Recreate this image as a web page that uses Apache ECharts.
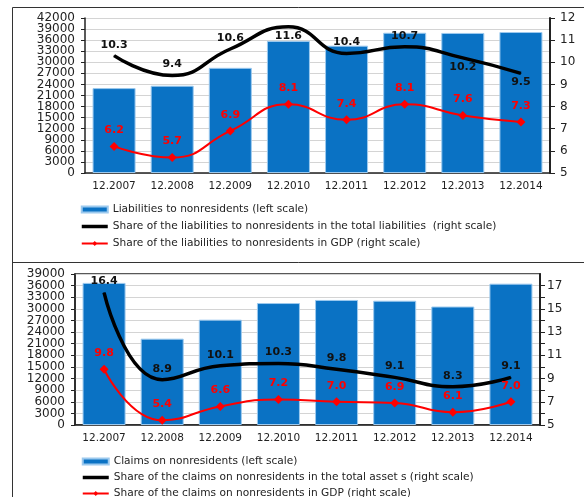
<!DOCTYPE html>
<html>
<head>
<meta charset="utf-8">
<script src="https://cdn.jsdelivr.net/npm/echarts@6/dist/echarts.min.js"></script>
<style>
  html, body { margin: 0; padding: 0; background: #fff; }
  #chart { width: 584px; height: 497px; }
</style>
</head>
<body>
<div id="chart"></div>
<script>
  // data
  const periods = ['12.2007', '12.2008', '12.2009', '12.2010', '12.2011', '12.2012', '12.2013', '12.2014'];

  const liabilities = [23000, 23650, 28500, 35800, 34500, 38000, 37950, 38200];
  const liabShareTotal = [10.3, 9.4, 10.6, 11.6, 10.4, 10.7, 10.2, 9.5];
  const liabShareGdp = [6.2, 5.7, 6.9, 8.1, 7.4, 8.1, 7.6, 7.3];

  const claims = [36700, 22300, 27200, 31500, 32300, 32100, 30600, 36500];
  const claimsShareTotal = [16.4, 8.9, 10.1, 10.3, 9.8, 9.1, 8.3, 9.1];
  const claimsShareGdp = [9.8, 5.4, 6.6, 7.2, 7.0, 6.9, 6.1, 7.0];

  // left tick labels, bottom to top
  const leftTicks1 = ['0', '3000', '6000', '9000', '12000', '15000', '18000', '21000',
    '24000', '27000', '30000', '33000', '36000', '39000', '42000'];
  const leftTicks2 = ['0', '3000', '6000', '9000', '12000', '15000', '18000', '21000',
    '24000', '27000', '30000', '33000', '36000', '39000'];

  // axis scales [min, max, step]
  const leftScale1 = [0, 42000, 3000];
  const rightScale1 = [5, 12, 1];
  const leftScale2 = [0, 39000, 3000];
  const rightScale2 = [5, 18, 1];

  // labels of the black line in the top panel that sit under the line
  const liabShareBelow = [3, 6, 7];

  const FONT = 'DejaVu Sans';
  const BLUE = '#0a72c4';
  const fmt1 = p => p.value.toFixed(1);

  function leftAxis(gridIndex, sc) {
    return {
      type: 'value', gridIndex, min: sc[0], max: sc[1], interval: sc[2],
      axisLine: { show: true, lineStyle: { color: '#222', width: 1.5 } },
      axisTick: { show: true, length: 4, lineStyle: { color: '#222' } },
      axisLabel: { show: false },
      splitLine: { lineStyle: { color: '#d4d4d4' } }
    };
  }
  // category axis laid over the value axis only to print every tick label
  function leftLabels(gridIndex, ticks) {
    return {
      type: 'category', gridIndex, position: 'left', data: ticks, boundaryGap: false,
      axisLine: { show: false }, axisTick: { show: false }, splitLine: { show: false },
      axisLabel: { interval: 0, margin: 10, fontFamily: FONT, fontSize: 12, color: '#222' }
    };
  }
  function rightAxis(gridIndex, sc, everyOther) {
    return {
      type: 'value', gridIndex, position: 'right', min: sc[0], max: sc[1], interval: sc[2],
      axisLine: { show: true, lineStyle: { color: '#222', width: 2 } },
      axisTick: { show: true, length: 5, lineStyle: { color: '#222' } },
      axisLabel: {
        fontFamily: FONT, fontSize: 12, color: '#222', margin: everyOther ? 7 : 10,
        showMinLabel: true, showMaxLabel: !everyOther,
        formatter: v => (everyOther && (v - 5) % 2 !== 0) ? '' : String(v)
      },
      splitLine: { show: false }
    };
  }
  function catAxis(gridIndex) {
    return {
      type: 'category', gridIndex, data: periods,
      axisLine: { lineStyle: { color: '#222', width: 1.5 } },
      axisTick: { length: 4, lineStyle: { color: '#222' } },
      axisLabel: { fontFamily: FONT, fontSize: 10.5, color: '#222', margin: 8, interval: 0 }
    };
  }
  function barSeries(name, xi, yi, data) {
    return {
      name, type: 'bar', xAxisIndex: xi, yAxisIndex: yi, data,
      barCategoryGap: '26%',
      itemStyle: { color: BLUE, borderColor: '#9cc9ee', borderWidth: 1 },
      z: 1
    };
  }
  function shareLine(name, xi, yi, data, below) {
    return {
      name, type: 'line', xAxisIndex: xi, yAxisIndex: yi, smooth: 0.5,
      symbol: 'circle', symbolSize: 1, showSymbol: true,
      lineStyle: { color: '#000', width: 3.5 },
      itemStyle: { color: '#000' },
      data: data.map((v, i) => ({
        value: v,
        label: below.includes(i) ? { position: 'bottom', distance: 3 } : {}
      })),
      label: { show: true, position: 'top', distance: 5, formatter: fmt1,
        fontFamily: FONT, fontSize: 11, fontWeight: 'bold', color: '#111' },
      z: 3
    };
  }
  function gdpLine(name, xi, yi, data) {
    return {
      name, type: 'line', xAxisIndex: xi, yAxisIndex: yi, smooth: 0.5,
      symbol: 'diamond', symbolSize: 9, showSymbol: true,
      lineStyle: { color: '#ff0000', width: 2 },
      itemStyle: { color: '#ff0000' },
      data,
      label: { show: true, position: 'top', distance: 6, formatter: fmt1,
        fontFamily: FONT, fontSize: 11, fontWeight: 'bold', color: '#ff0000' },
      z: 4
    };
  }
  function legend(top, left, gap, names) {
    return {
      orient: 'vertical', top, left, height: 70, itemGap: gap, itemWidth: 26, itemHeight: 6,
      textStyle: { fontFamily: FONT, fontSize: 10.6, color: '#222' },
      data: [
        { name: names[0], icon: 'rect' },
        { name: names[1], itemStyle: { opacity: 0 }, lineStyle: { width: 3.5, color: '#000' } },
        { name: names[2], lineStyle: { width: 2, color: '#ff0000' } }
      ]
    };
  }

  const n1 = ['Liabilities to nonresidents (left scale)',
    'Share of the liabilities to nonresidents in the total liabilities  (right scale)',
    'Share of the liabilities to nonresidents in GDP (right scale)'];
  const n2 = ['Claims on nonresidents (left scale)',
    'Share of the claims on nonresidents in the total asset s (right scale)',
    'Share of the claims on nonresidents in GDP (right scale)'];

  const chart = echarts.init(document.getElementById('chart'));
  const option = {
    animation: false,
    backgroundColor: '#fff',
    graphic: [
      { type: 'text', left: 10, top: -12,
        style: { text: 'in millions of dollars and in %', fontFamily: FONT, fontSize: 16, fill: '#111' } },
      { type: 'line', shape: { x1: 12.5, y1: 7.5, x2: 584, y2: 7.5 }, style: { stroke: '#333', lineWidth: 1 } },
      { type: 'line', shape: { x1: 12.5, y1: 7.5, x2: 12.5, y2: 497 }, style: { stroke: '#333', lineWidth: 1 } },
      { type: 'line', shape: { x1: 12.5, y1: 262.5, x2: 584, y2: 262.5 }, style: { stroke: '#333', lineWidth: 1 } }
    ],
    grid: [
      { left: 85, right: 34, top: 18, bottom: 324 },
      { left: 75, right: 44, top: 274, bottom: 72, show: true, borderColor: '#222', borderWidth: 1.5 }
    ],
    legend: [legend(199, 75, 6, n1), legend(451, 76, 5, n2)],
    xAxis: [catAxis(0), catAxis(1)],
    yAxis: [leftAxis(0, leftScale1), rightAxis(0, rightScale1, false),
      leftAxis(1, leftScale2), rightAxis(1, rightScale2, true),
      leftLabels(0, leftTicks1), leftLabels(1, leftTicks2)],
    series: [
      barSeries(n1[0], 0, 0, liabilities),
      shareLine(n1[1], 0, 1, liabShareTotal, liabShareBelow),
      gdpLine(n1[2], 0, 1, liabShareGdp),
      barSeries(n2[0], 1, 2, claims),
      shareLine(n2[1], 1, 3, claimsShareTotal, []),
      gdpLine(n2[2], 1, 3, claimsShareGdp)
    ]
  };
  chart.setOption(option);
</script>
</body>
</html>
